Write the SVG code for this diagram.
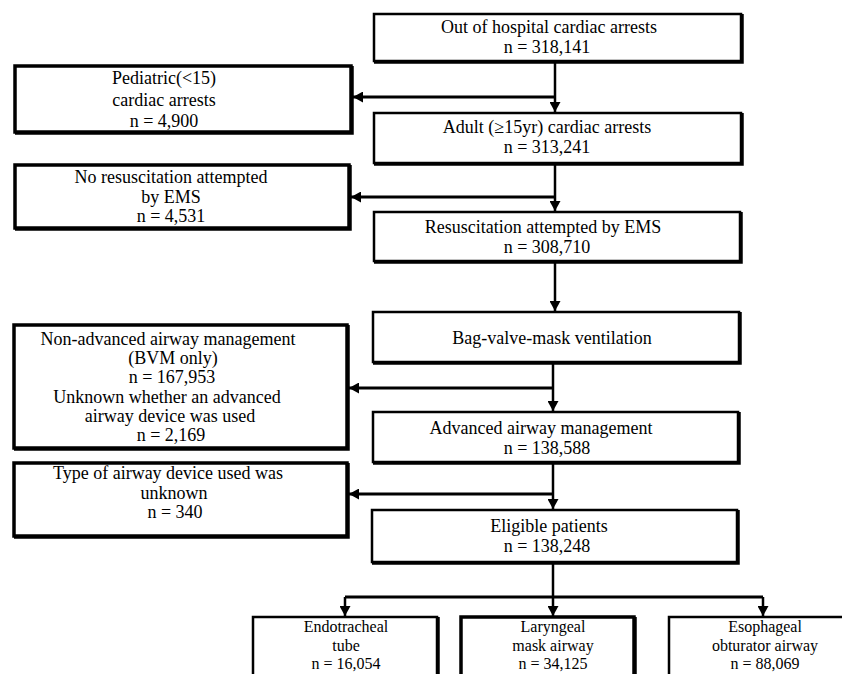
<svg xmlns="http://www.w3.org/2000/svg" width="842" height="674" viewBox="0 0 842 674">
<defs>
<marker id="ah" markerUnits="userSpaceOnUse" markerWidth="11" markerHeight="11" refX="10" refY="5.5" orient="auto">
<path d="M0,0 L10,5.5 L0,11 z" fill="#000"/>
</marker>
<style>
.box{fill:#fff;stroke:#000;stroke-width:2.5}
.sh{fill:none;stroke:#000;stroke-width:2.5}
.thick{fill:#fff;stroke:#000;stroke-width:3.5}
.t{font-family:"Liberation Serif","Times New Roman",serif;font-size:18px;fill:#000;text-anchor:middle}
.s{font-size:16px}
.c{fill:none;stroke:#000;stroke-width:2.5}
.h{fill:none;stroke:#000;stroke-width:3}
</style>
</defs>
<rect width="842" height="674" fill="#fff"/>

<g id="connectors">
<path class="c" d="M555,61 V112" marker-end="url(#ah)"/>
<path class="h" d="M555,97 H353" marker-end="url(#ah)"/>
<path class="c" d="M555,163 V211" marker-end="url(#ah)"/>
<path class="h" d="M555,197 H351" marker-end="url(#ah)"/>
<path class="c" d="M555,261 V311" marker-end="url(#ah)"/>
<path class="c" d="M553,362 V411" marker-end="url(#ah)"/>
<path class="h" d="M553,388 H349" marker-end="url(#ah)"/>
<path class="c" d="M553,462 V509" marker-end="url(#ah)"/>
<path class="h" d="M553,494 H349" marker-end="url(#ah)"/>
<path class="c" d="M553,562 V597"/>
<path class="h" d="M345,597 H763"/>
<path class="c" d="M345,597 V616" marker-end="url(#ah)"/>
<path class="c" d="M553,597 V616" marker-end="url(#ah)"/>
<path class="c" d="M763,597 V616" marker-end="url(#ah)"/>
</g>

<g id="n1">
<rect class="box" x="374" y="14" width="367" height="47"/>
<path class="sh" d="M742.5,14 V62.5 H374"/>
<text class="t" x="549" y="33">Out of hospital  cardiac arrests</text>
<text class="t" x="547" y="53">n = 318,141</text>
</g>

<g id="n2">
<rect class="box" x="374" y="113" width="367" height="50"/>
<path class="sh" d="M742.5,113 V164.5 H374"/>
<text class="t" x="547" y="133">Adult (≥15yr) cardiac arrests</text>
<text class="t" x="547" y="153">n = 313,241</text>
</g>

<g id="n3">
<rect class="box" x="374" y="212" width="366" height="49"/>
<path class="sh" d="M741.5,212 V262.5 H374"/>
<text class="t" x="543" y="233">Resuscitation attempted by EMS</text>
<text class="t" x="547" y="253">n = 308,710</text>
</g>

<g id="n4">
<rect class="box" x="373" y="312" width="366" height="50"/>
<path class="sh" d="M740.5,312 V363.5 H373"/>
<text class="t" x="552" y="344">Bag-valve-mask ventilation</text>
</g>

<g id="n5">
<rect class="box" x="373" y="412" width="365" height="50"/>
<path class="sh" d="M739.5,412 V463.5 H373"/>
<text class="t" x="541" y="434">Advanced airway management</text>
<text class="t" x="547" y="454">n = 138,588</text>
</g>

<g id="n6">
<rect class="box" x="372" y="510" width="365" height="52"/>
<path class="sh" d="M738.5,510 V563.5 H372"/>
<text class="t" x="549" y="532">Eligible patients</text>
<text class="t" x="547" y="552">n = 138,248</text>
</g>

<g id="e1">
<rect class="thick" x="15" y="66" width="336" height="66"/>
<path class="sh" d="M352.5,66 V133.5 H15"/>
<text class="t" x="164" y="84">Pediatric(&lt;15)</text>
<text class="t" x="164" y="106">cardiac arrests</text>
<text class="t" x="164" y="127">n = 4,900</text>
</g>

<g id="e2">
<rect class="thick" x="15" y="165" width="334" height="63"/>
<path class="sh" d="M350.5,165 V229.5 H15"/>
<text class="t" x="171" y="183">No resuscitation attempted</text>
<text class="t" x="171" y="203">by EMS</text>
<text class="t" x="171" y="222">n = 4,531</text>
</g>

<g id="e3">
<rect class="thick" x="14" y="325" width="333" height="123"/>
<path class="sh" d="M348.5,325 V449.5 H14"/>
<text class="t" x="168" y="345">Non-advanced airway management</text>
<text class="t" x="173" y="364">(BVM only)</text>
<text class="t" x="172" y="383">n = 167,953</text>
<text class="t" x="167" y="403">Unknown  whether an advanced</text>
<text class="t" x="170" y="422">airway device was used</text>
<text class="t" x="171" y="441">n = 2,169</text>
</g>

<g id="e4">
<rect class="thick" x="14" y="463" width="333" height="73"/>
<path class="sh" d="M348.5,463 V537.5 H14"/>
<text class="t" x="168" y="479">Type  of airway device used was</text>
<text class="t" x="174" y="499">unknown</text>
<text class="t" x="175" y="518">n = 340</text>
</g>

<g id="b1">
<rect class="box" x="253" y="617" width="184" height="62"/>
<path class="sh" d="M438.5,617 V680"/>
<text class="t s" x="346" y="632">Endotracheal</text>
<text class="t s" x="346" y="650.5">tube</text>
<text class="t s" x="346" y="669">n = 16,054</text>
</g>

<g id="b2">
<rect class="thick" x="461" y="617" width="173" height="62"/>
<path class="sh" d="M635.5,617 V680"/>
<text class="t s" x="553" y="632">Laryngeal</text>
<text class="t s" x="553" y="650.5">mask airway</text>
<text class="t s" x="553" y="669">n = 34,125</text>
</g>

<g id="b3">
<rect class="box" x="669" y="617" width="180" height="62"/>
<text class="t s" x="765" y="632">Esophageal</text>
<text class="t s" x="765" y="650.5">obturator  airway</text>
<text class="t s" x="765" y="669">n = 88,069</text>
</g>
</svg>
